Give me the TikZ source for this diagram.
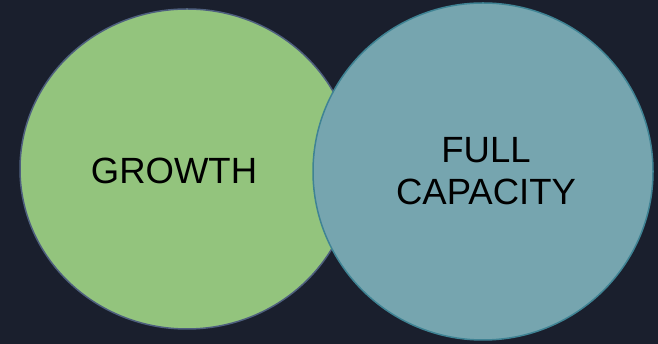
\documentclass[tikz,border=0pt]{standalone}
\usepackage{fontspec}
\setmainfont{Liberation Sans}
\usetikzlibrary{shapes.geometric}
\definecolor{bg}{HTML}{1A1F2D}
\definecolor{greenfill}{HTML}{93C47D}
\definecolor{greenline}{HTML}{4E5F7E}
\definecolor{bluefill}{HTML}{76A5AF}
\definecolor{blueline}{HTML}{3F8394}
\begin{document}
\begin{tikzpicture}[x=1pt,y=1pt,
  bubble/.style={ellipse,inner sep=0pt,line width=1.5pt},
  label/.style={font=\fontsize{36.5}{42}\selectfont,text=black,align=center,inner sep=0pt}]
\fill[bg] (0,0) rectangle (658,344);
\useasboundingbox (0,0) rectangle (658,344);
\node[bubble,draw=greenline,fill=greenfill,minimum width=334pt,minimum height=320pt] (growth) at (187,175) {};
\node[bubble,draw=blueline,fill=bluefill,minimum width=340pt,minimum height=337pt] (full) at (483,172.5) {};
\node[label] (growthtext) at (174,173) {GROWTH};
\node[label] (fulltext) at (486,173) {FULL\\CAPACITY};
\end{tikzpicture}
\end{document}
